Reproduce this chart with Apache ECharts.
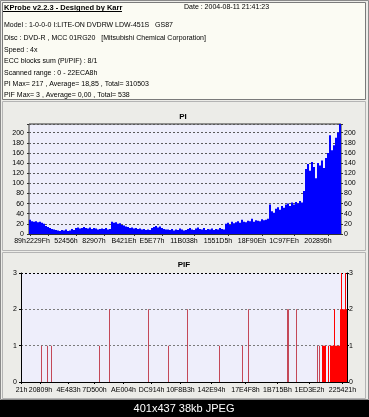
<!DOCTYPE html>
<html><head><meta charset="utf-8">
<script src="https://cdn.jsdelivr.net/npm/echarts@6/dist/echarts.min.js"></script>
<style>html,body{margin:0;padding:0;background:#000}#c{width:369px;height:417px}</style>
</head><body><div id="c"></div>
<script>
// ---- PI data (one bar per 2px column) ----
const piValues = [
  28, 25, 24, 25, 23, 24, 22, 20,
  16, 14, 12, 10, 9,
  8, 7, 6, 8, 7, 9, 6, 7, 10, 8, 12, 13, 11, 12, 14, 12, 11, 13, 10, 12, 11, 9, 10,
  11, 10, 12, 9, 10,
  24, 22, 23, 20, 21, 18, 17, 15,
  14, 12, 13, 11, 12, 10, 11, 9, 10, 8, 9, 8,
  12, 14, 16, 13, 15, 12, 10, 9,
  9, 8, 10, 7, 9, 8, 11, 9, 7, 8, 10, 12, 9, 8, 11, 13, 10, 9, 12, 8, 10, 9, 11, 8, 10, 9, 12, 10, 9,
  20, 22, 18, 24, 21, 23, 25, 22, 28, 24, 23, 26, 25, 30, 24, 27, 26, 25, 29, 27, 28, 30,
  58, 45, 42, 50, 53, 48, 55, 52, 58, 60, 55, 62, 58, 63, 60, 65, 62, 85,
  128, 138, 125, 142, 132, 110, 140, 135, 145, 130,
  150, 160, 195, 165, 175, 190, 200, 217
];
const piMax = 217;
const piTickIndex = [0, 9, 23, 37, 52, 66, 82, 99, 116, 132, 149];
const piTickLabels = ['89h', '2229Fh', '52456h', '82907h', 'B421Eh', 'E5E77h', '11B038h', '1551D5h', '18F90Eh', '1C97FEh', '202895h'];

// ---- PIF data (sparse: column index -> value, 326 columns) ----
const pifCount = 326;
const pifIndex = [20, 26, 30, 78, 88, 127, 147, 166, 198, 221, 227, 266, 267, 275, 296, 298, 301, 302, 303, 304, 307, 309, 310, 311, 312, 313, 314, 315, 316, 317, 318, 319, 320, 321, 322, 323, 324, 325];
const pifValues = [1, 1, 1, 1, 2, 2, 1, 2, 1, 1, 2, 2, 2, 2, 1, 1, 1, 1, 1, 1, 1, 1, 1, 1, 1, 2, 1, 1, 1, 1, 1, 2, 3, 2, 2, 2, 3, 2];
const pifTickIndex = [0, 19, 47, 73, 102, 130, 159, 190, 224, 256, 288, 321];
const pifTickLabels = ['21h', '20809h', '4E483h', '7D500h', 'AE004h', 'DC914h', '10F8B3h', '142E94h', '17E4F8h', '1B715Bh', '1ED3E2h', '225421h'];

// ---- header texts ----
const headerTitle = 'KProbe v2.2.3 - Designed by Karr';
const headerDate = 'Date : 2004-08-11 21:41:23';
const infoLines = [
  'Model : 1-0-0-0 I:LITE-ON DVDRW LDW-451S   GS87',
  'Disc : DVD-R , MCC 01RG20   [Mitsubishi Chemical Corporation]',
  'Speed : 4x',
  'ECC blocks sum (PI/PIF) : 8/1',
  'Scanned range : 0 - 22ECA8h',
  'PI Max= 217 , Average= 18,85 , Total= 310503',
  'PIF Max= 3 , Average= 0,00 , Total= 538'
];
const caption = '401x437 38kb JPEG';

const FONT = "'Liberation Sans', Arial, sans-serif";
const FS = 7;

const pifData = new Array(pifCount).fill(0);
pifIndex.forEach((ix, k) => { pifData[ix] = pifValues[k]; });

const infoY = [25, 37.7, 50, 61.5, 73.3, 84.3, 95.3];
const graphics = [
  { type: 'rect', shape: { x: 0.5, y: 0.5, width: 368, height: 399 }, style: { fill: 'none', stroke: '#8a8a8a' } },
  { type: 'rect', shape: { x: 2.5, y: 2.5, width: 363, height: 97 }, style: { fill: '#fbfbf3', stroke: '#7a7a7a' } },
  { type: 'rect', shape: { x: 2.5, y: 101.5, width: 363, height: 149 }, style: { fill: 'none', stroke: '#b4b4b4' } },
  { type: 'rect', shape: { x: 2.5, y: 252.5, width: 363, height: 146 }, style: { fill: 'none', stroke: '#b4b4b4' } },
  { type: 'rect', shape: { x: 0, y: 400, width: 369, height: 17 }, style: { fill: '#000' } },
  { type: 'text', z: 100, style: { text: headerTitle, x: 4, y: 7.5, fill: '#000', font: 'bold 7.5px ' + FONT, verticalAlign: 'middle' } },
  { type: 'line', z: 100, shape: { x1: 3, y1: 11.5, x2: 122, y2: 11.5 }, style: { stroke: '#000', lineWidth: 1 } },
  { type: 'text', z: 100, style: { text: headerDate, x: 184, y: 7.5, fill: '#000', font: FS + 'px ' + FONT, verticalAlign: 'middle' } },
  { type: 'text', z: 100, style: { text: 'PI', x: 183, y: 117, fill: '#000', font: 'bold 8px ' + FONT, align: 'center', verticalAlign: 'middle' } },
  { type: 'text', z: 100, style: { text: 'PIF', x: 184, y: 265, fill: '#000', font: 'bold 8px ' + FONT, align: 'center', verticalAlign: 'middle' } },
  { type: 'text', z: 100, style: { text: caption, x: 184, y: 409, fill: '#fff', font: '11px "Liberation Sans", sans-serif', align: 'center', verticalAlign: 'middle' } }
];
infoLines.forEach((t, k) => {
  graphics.push({ type: 'text', z: 100, style: { text: t, x: 4, y: infoY[k], fill: '#000', font: FS + 'px ' + FONT, verticalAlign: 'middle' } });
});

const lbl = { fontSize: FS, fontFamily: FONT, color: '#000' };
const chart = echarts.init(document.getElementById('c'), null, { renderer: 'canvas' });
chart.setOption({
  animation: false,
  backgroundColor: '#ecece8',
  graphic: graphics,
  grid: [
    { left: 29, right: 28, top: 124, height: 110, show: true, backgroundColor: '#eeeefb', borderColor: '#303030', borderWidth: 1 },
    { left: 21, right: 22, top: 273, height: 109, show: true, backgroundColor: '#eeeefb', borderWidth: 0 }
  ],
  xAxis: [
    {
      type: 'category', gridIndex: 0, data: piValues.map((_, i) => String(i)),
      axisLine: { show: true, lineStyle: { color: '#303030' } },
      axisTick: { show: true, alignWithLabel: true, length: 2, interval: (i) => piTickIndex.includes(i), lineStyle: { color: '#303030' } },
      axisLabel: Object.assign({}, lbl, { margin: 4, padding: [0, 20, 0, 0], showMinLabel: true, showMaxLabel: true, hideOverlap: false, interval: (i) => piTickIndex.includes(i), formatter: (v, i) => piTickLabels[piTickIndex.indexOf(i)] || '' })
    },
    {
      type: 'category', gridIndex: 1, data: pifData.map((_, i) => String(i)),
      axisLine: { show: true, lineStyle: { color: '#000' } },
      axisTick: { show: true, alignWithLabel: true, length: 2, interval: (i) => pifTickIndex.includes(i), lineStyle: { color: '#000' } },
      axisLabel: Object.assign({}, lbl, { margin: 5, showMinLabel: true, showMaxLabel: true, hideOverlap: false, interval: (i) => pifTickIndex.includes(i), formatter: (v, i) => pifTickLabels[pifTickIndex.indexOf(i)] || '' })
    }
  ],
  yAxis: [
    {
      type: 'value', gridIndex: 0, min: 0, max: piMax, interval: 20, position: 'left',
      axisLine: { show: false }, axisTick: { show: true, length: 2, lineStyle: { color: '#303030' } },
      axisLabel: Object.assign({}, lbl, { margin: 5, formatter: (v) => (v % 20 === 0 ? String(v) : '') }),
      splitLine: { show: true, lineStyle: { type: [2, 2], color: '#5a5a5a', width: 1 } }
    },
    {
      type: 'value', gridIndex: 0, min: 0, max: piMax, interval: 20, position: 'right',
      axisLine: { show: false }, axisTick: { show: true, length: 2, lineStyle: { color: '#303030' } },
      axisLabel: Object.assign({}, lbl, { margin: 3, formatter: (v) => (v % 20 === 0 ? String(v) : '') }),
      splitLine: { show: false }
    },
    {
      type: 'value', gridIndex: 1, min: 0, max: 3, interval: 1, position: 'left',
      axisLine: { show: true, lineStyle: { color: '#000' } }, axisTick: { show: true, length: 2, lineStyle: { color: '#000' } },
      axisLabel: Object.assign({}, lbl, { margin: 4 }),
      splitLine: { show: true, lineStyle: { type: [2, 2], color: ['#000', '#7a7a7a', '#7a7a7a', '#000'], width: 1 } }
    },
    {
      type: 'value', gridIndex: 1, min: 0, max: 3, interval: 1, position: 'right',
      axisLine: { show: true, lineStyle: { color: '#000' } }, axisTick: { show: true, length: 2, lineStyle: { color: '#000' } },
      axisLabel: Object.assign({}, lbl, { margin: 2 }),
      splitLine: { show: false }
    }
  ],
  series: [
    { type: 'bar', xAxisIndex: 0, yAxisIndex: 0, data: piValues, barCategoryGap: '0%', barGap: '0%', itemStyle: { color: '#0000ff' } },
    { type: 'bar', xAxisIndex: 1, yAxisIndex: 2, data: pifData, barCategoryGap: '0%', barGap: '0%',
      itemStyle: { color: (p) => (p.dataIndex >= 300 ? '#ff0000' : '#c44858') } }
  ]
});
</script></body></html>
